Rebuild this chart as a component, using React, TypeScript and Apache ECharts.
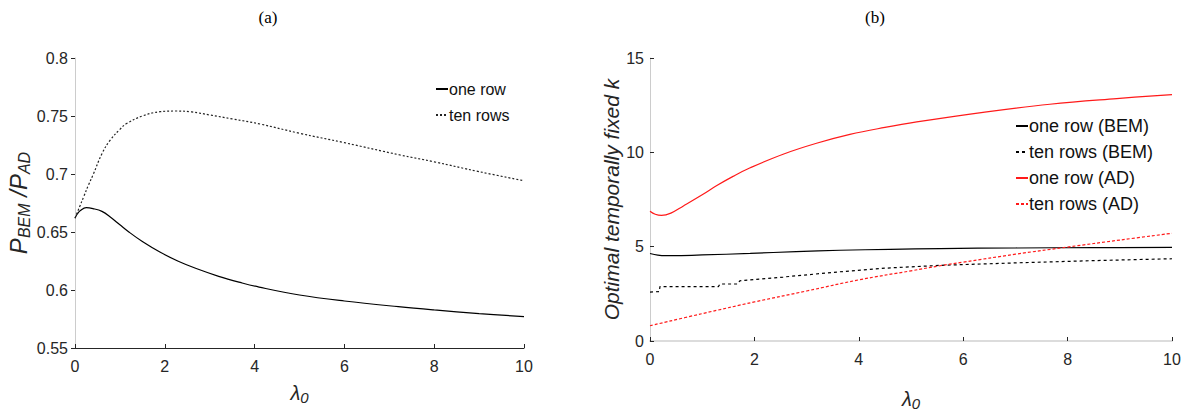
import React, { useEffect, useRef } from "react";
import * as echarts from "echarts";

// ---- Panel (a): P_BEM / P_AD versus lambda_0 ----
const aOneRowX = [0, 0.05, 0.12, 0.25, 0.4, 0.6, 0.8, 1.0, 1.2, 1.5, 1.9, 2.3, 2.7, 3.2, 3.7, 4.1, 5.0, 6.0, 7.2, 8.0, 9.0, 10];
const aOneRowY = [0.6618, 0.6655, 0.6685, 0.671, 0.6702, 0.6678, 0.6625, 0.6562, 0.65, 0.6418, 0.6325, 0.6248, 0.6185, 0.6118, 0.6063, 0.6025, 0.5957, 0.5905, 0.5856, 0.5828, 0.5797, 0.577];
const aTenRowsX = [0, 0.1, 0.2, 0.3, 0.41, 0.6, 0.78, 1.0, 1.15, 1.5, 1.89, 2.26, 2.6, 3.0, 3.5, 4.12, 5.0, 6.0, 7.24, 8.0, 9.0, 10];
const aTenRowsY = [0.662, 0.6715, 0.681, 0.6905, 0.7, 0.7175, 0.729, 0.7385, 0.7435, 0.75, 0.7537, 0.7543, 0.7535, 0.7509, 0.7475, 0.7431, 0.7351, 0.727, 0.7164, 0.7105, 0.702, 0.6942];

// ---- Panel (b): optimal temporally fixed k versus lambda_0 ----
const bOneRowBemX = [0, 0.15, 0.3, 0.6, 1.0, 1.92, 2.8, 3.64, 4.6, 5.56, 7.0, 8.5, 10];
const bOneRowBemY = [4.64, 4.55, 4.52, 4.53, 4.56, 4.64, 4.74, 4.81, 4.86, 4.9, 4.93, 4.95, 4.96];
const bTenRowsBemX = [0, 0.18, 0.19, 1.31, 1.34, 1.68, 1.72, 2.55, 3.64, 4.5, 5.56, 7.0, 8.5, 10];
const bTenRowsBemY = [2.59, 2.62, 2.88, 2.88, 3.02, 3.02, 3.19, 3.39, 3.67, 3.86, 4.01, 4.14, 4.26, 4.36];
const bOneRowAdX = [0, 0.1, 0.22, 0.4, 0.64, 1.0, 1.28, 1.6, 1.92, 2.55, 3.19, 3.83, 4.5, 5.11, 6.38, 7.66, 8.94, 10];
const bOneRowAdY = [6.88, 6.72, 6.66, 6.78, 7.16, 7.75, 8.24, 8.74, 9.18, 9.9, 10.48, 10.95, 11.32, 11.61, 12.12, 12.55, 12.85, 13.06];
const bTenRowsAdX = [0, 1, 2, 3, 4, 5, 5.56, 6, 7, 8, 9, 10];
const bTenRowsAdY = [0.81, 1.45, 2.07, 2.65, 3.24, 3.72, 3.99, 4.18, 4.6, 4.98, 5.35, 5.71];

const panelTitles = ["(a)", "(b)"];
const aLegend = ["one row", "ten rows"];
const bLegend = ["one row (BEM)", "ten rows (BEM)", "one row (AD)", "ten rows (AD)"];

const zip = (xs: number[], ys: number[]) => xs.map((x, i) => [x, ys[i]]);

export default function App() {
  const ref = useRef<HTMLDivElement>(null);
  useEffect(() => {
    if (!ref.current) return;
    const chart = echarts.init(ref.current, null, { renderer: "svg" });
    const labelStyle = { fontSize: 16, color: "#262626", fontFamily: "Liberation Sans" };
    const lineBase = { type: "line", showSymbol: false, symbol: "none", smooth: 0.4 };
    const lamName = {
      name: "{l|λ}{s|0}",
      nameLocation: "middle",
      nameTextStyle: {
        rich: {
          l: { fontSize: 20, fontStyle: "italic", color: "#262626", fontFamily: "Liberation Sans" },
          s: { fontSize: 15, fontStyle: "italic", color: "#262626", fontFamily: "Liberation Sans", padding: [10, 0, 0, 0] },
        },
      },
    };
    const legendCommon = {
      orient: "vertical", itemWidth: 12, itemHeight: 2, padding: 0,
      itemStyle: { opacity: 0 },
    };
    chart.setOption({
      animation: false,
      textStyle: { fontFamily: "Liberation Sans" },
      grid: [
        { left: 75, top: 58, width: 449, height: 290 },
        { left: 650, top: 58, width: 522, height: 290 },
      ],
      xAxis: [
        {
          ...lamName,
          nameGap: 32,
          gridIndex: 0, type: "value", min: 0, max: 10, interval: 2,
          axisLine: { show: true, onZero: false, lineStyle: { color: "#262626", width: 1 } },
          axisTick: { show: true, inside: true, length: 4, lineStyle: { color: "#262626" } },
          axisLabel: { ...labelStyle, margin: 10 },
          splitLine: { show: false },
        },
        {
          ...lamName,
          nameGap: 45,
          gridIndex: 1, type: "value", min: 0, max: 10, interval: 2,
          axisLine: { show: true, onZero: false, lineStyle: { color: "#dcdcdc", width: 2 } },
          axisTick: { show: true, inside: true, length: 4, lineStyle: { color: "#262626" } },
          axisLabel: { ...labelStyle, margin: 10 },
          splitLine: { show: false },
        },
      ],
      yAxis: [
        {
          gridIndex: 0, type: "value", min: 0.55, max: 0.8, interval: 0.05,
          name: "{p|P}{s|BEM}{p| /P}{s|AD}",
          nameLocation: "middle",
          nameGap: 38,
          nameTextStyle: {
            rich: {
              p: { fontSize: 24, fontStyle: "italic", color: "#262626", fontFamily: "Liberation Sans" },
              s: { fontSize: 16, fontStyle: "italic", color: "#262626", fontFamily: "Liberation Sans", padding: [12, 0, 0, 0] },
            },
          },
          axisLine: { show: true, lineStyle: { color: "#cccccc", width: 1 } },
          axisTick: { show: true, inside: false, length: 4, lineStyle: { color: "#262626" } },
          axisLabel: { ...labelStyle, margin: 7 },
          splitLine: { show: false },
        },
        {
          gridIndex: 1, type: "value", min: 0, max: 15, interval: 5,
          name: "Optimal temporally fixed k",
          nameLocation: "middle",
          nameGap: 28,
          nameTextStyle: { fontSize: 21, fontStyle: "italic", color: "#262626", fontFamily: "Liberation Sans" },
          axisLine: { show: true, lineStyle: { color: "#cccccc", width: 1 } },
          axisTick: { show: true, inside: true, length: 4, lineStyle: { color: "#262626" } },
          axisLabel: { ...labelStyle, margin: 6 },
          splitLine: { show: false },
        },
      ],
      legend: [
        {
          ...legendCommon,
          data: aLegend, left: 435, top: 81, itemGap: 10,
          textStyle: { fontSize: 16, color: "#111", padding: [0, 0, 0, -4] },
        },
        {
          ...legendCommon,
          data: bLegend, left: 1015, top: 117, itemGap: 8,
          textStyle: { fontSize: 18, color: "#111", padding: [0, 0, 0, -4] },
        },
      ],
      graphic: [
        { type: "text", x: 268, y: 9, style: { text: panelTitles[0], fontSize: 17, fontFamily: "Liberation Serif", fill: "#000", textAlign: "center" } },
        { type: "text", x: 875, y: 9, style: { text: panelTitles[1], fontSize: 17, fontFamily: "Liberation Serif", fill: "#000", textAlign: "center" } },
      ],
      series: [
        { ...lineBase, name: aLegend[0], xAxisIndex: 0, yAxisIndex: 0, data: zip(aOneRowX, aOneRowY), lineStyle: { color: "#000", width: 1.2, type: "solid" }, itemStyle: { color: "#000" } },
        { ...lineBase, name: aLegend[1], xAxisIndex: 0, yAxisIndex: 0, data: zip(aTenRowsX, aTenRowsY), lineStyle: { color: "#222", width: 1.2, type: [2, 2] }, itemStyle: { color: "#222" } },
        { ...lineBase, name: bLegend[0], xAxisIndex: 1, yAxisIndex: 1, data: zip(bOneRowBemX, bOneRowBemY), lineStyle: { color: "#000", width: 1.2, type: "solid" }, itemStyle: { color: "#000" } },
        { ...lineBase, smooth: false, name: bLegend[1], xAxisIndex: 1, yAxisIndex: 1, data: zip(bTenRowsBemX, bTenRowsBemY), lineStyle: { color: "#000", width: 1.2, type: [3, 3] }, itemStyle: { color: "#000" } },
        { ...lineBase, name: bLegend[2], xAxisIndex: 1, yAxisIndex: 1, data: zip(bOneRowAdX, bOneRowAdY), lineStyle: { color: "#ff1a1a", width: 1.2, type: "solid" }, itemStyle: { color: "#ff1a1a" } },
        { ...lineBase, name: bLegend[3], xAxisIndex: 1, yAxisIndex: 1, data: zip(bTenRowsAdX, bTenRowsAdY), lineStyle: { color: "#ff1a1a", width: 1.2, type: [3, 2] }, itemStyle: { color: "#ff1a1a" } },
      ],
    });
    return () => chart.dispose();
  }, []);
  return <div ref={ref} style={{ position: "fixed", left: 0, top: 0, width: 1190, height: 416, background: "#fff" }} />;
}
